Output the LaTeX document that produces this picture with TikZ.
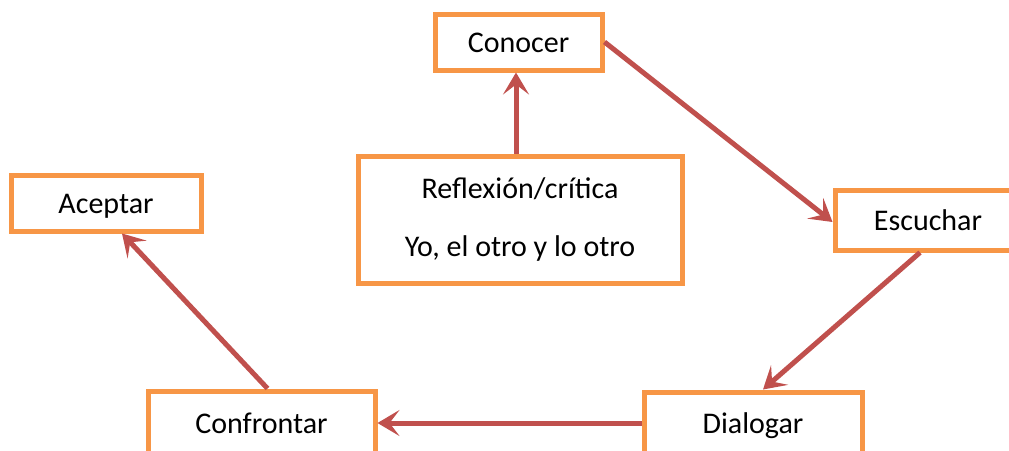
\documentclass[tikz,border=0pt]{standalone}
\usepackage{fontspec}
\setmainfont{Carlito}
\usepackage{tikz}
\usetikzlibrary{arrows.meta,positioning}
\definecolor{boxorange}{RGB}{247,150,70}
\definecolor{arrred}{RGB}{192,80,77}

\begin{document}
\begin{tikzpicture}[x=1pt, y=-1pt, every node/.style={font=\fontsize{30}{36}\selectfont},
  box/.style={draw=boxorange, line width=5pt, fill=white, align=center, inner sep=0pt},
  one/.style={box, text height=24pt, text depth=4pt},
  arr/.style={-{Stealth[length=22pt, width=26pt, inset=10pt]}, arrred, line width=5pt}]
\useasboundingbox (0,0) rectangle (1009,450);
\clip (0,0) rectangle (1009,450);
\node[one, minimum width=167pt, minimum height=56pt] (con) at (518.5,42) {Conocer};
\node[box, minimum width=324pt, minimum height=127pt] (refl) at (520,219.5) {Reflexión/crítica\\[22pt]Yo, el otro y lo otro};
\node[one, minimum width=200pt, minimum height=60pt] (esc) at (935,220) {Escuchar\hspace*{14pt}};
\node[one, minimum width=190pt, minimum height=56pt] (acep) at (106,203) {Aceptar};
\node[one, minimum width=227pt, minimum height=64pt] (conf) at (261.5,423) {Confrontar};
\node[one, minimum width=218pt, minimum height=62pt] (dia) at (753,423) {Dialogar};
\draw[arr] ([xshift=-4pt]refl.north) -- ([xshift=-4pt]refl.north |- con.south); \draw[arr] (con.east) -- ([yshift=-2pt]esc.west); \draw[arr] ([xshift=-15pt]esc.south) -- ([xshift=10pt]dia.north);
\draw[arr] (dia.west) -- (conf.east); \draw[arr] ([xshift=6pt]conf.north) -- ([xshift=16pt]acep.south);
\end{tikzpicture}
\end{document}
